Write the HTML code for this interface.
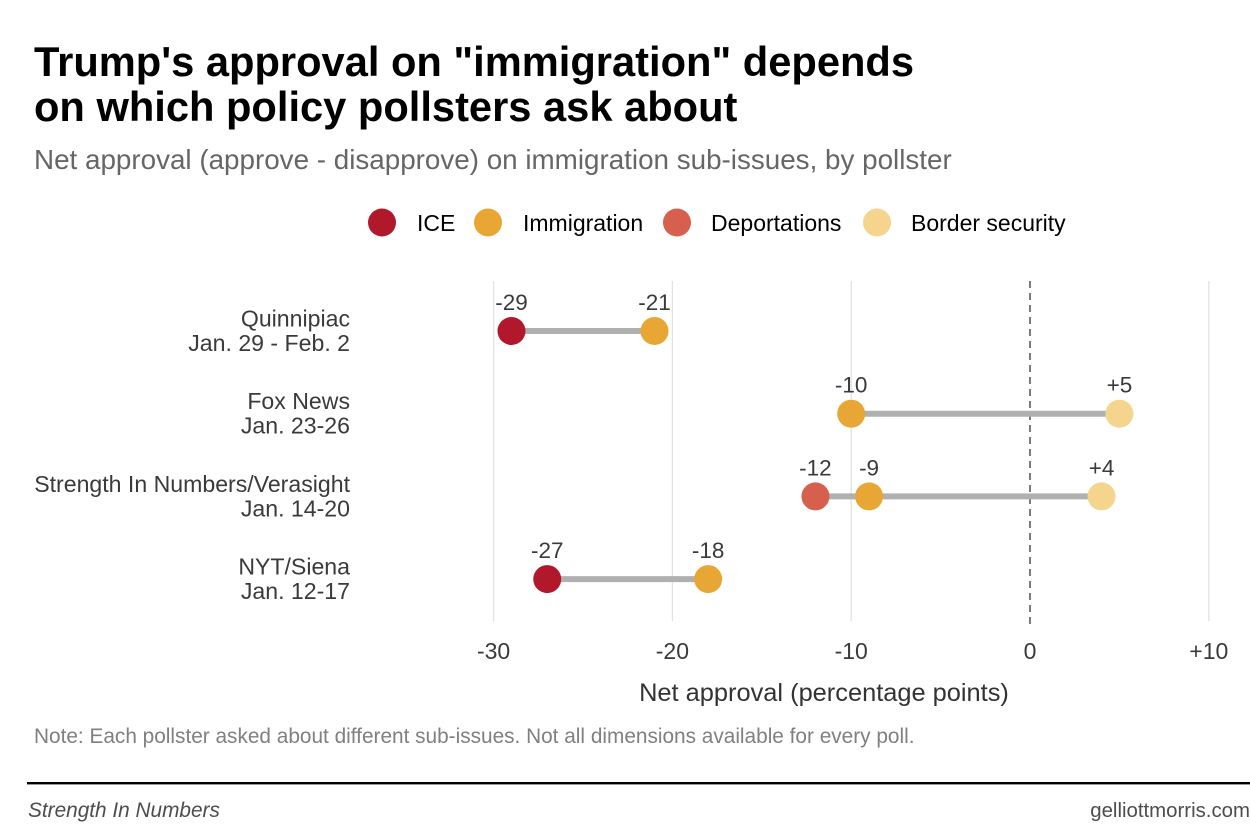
<!DOCTYPE html>
<html lang="en">
<head>
<meta charset="utf-8">
<title>Trump's approval on immigration</title>
<style>
html,body{margin:0;padding:0;background:#fff;width:1250px;height:833px;overflow:hidden}
svg{display:block;font-family:"Liberation Sans",Arial,sans-serif}
</style>
</head>
<body>
<svg id="chart" width="1250" height="833" viewBox="0 0 1250 833" xmlns="http://www.w3.org/2000/svg">
  <rect width="1250" height="833" fill="#fff"/>
  <text x="34" y="76" font-size="41.65" font-weight="700" fill="#000">Trump's approval on "immigration" depends</text>
  <text x="34" y="121" font-size="41.65" font-weight="700" fill="#000">on which policy pollsters ask about</text>
  <text x="34" y="169" font-size="27.8" fill="#666">Net approval (approve - disapprove) on immigration sub-issues, by pollster</text>
  <g id="legend"></g>
  <g id="grid"></g>
  <g id="rows"></g>
  <g id="xticks"></g>
  <text x="824" y="701" font-size="25.4" fill="#333" text-anchor="middle">Net approval (percentage points)</text>
  <text x="34" y="743" font-size="20.8" fill="#808080">Note: Each pollster asked about different sub-issues. Not all dimensions available for every poll.</text>
  <rect x="27" y="782" width="1223" height="2.4" fill="#000"/>
  <text x="28" y="817" font-size="20.8" font-style="italic" fill="#4d4d4d">Strength In Numbers</text>
  <text x="1250" y="817" font-size="20.4" fill="#4d4d4d" text-anchor="end">gelliottmorris.com</text>
</svg>
<script>
const categories = ["ICE", "Immigration", "Deportations", "Border security"];
const seriesColors = ["#b2182b", "#e8a735", "#d6604d", "#f5d58e"];
const pollsters = ["Quinnipiac", "Fox News", "Strength In Numbers/Verasight", "NYT/Siena"];
const pollDates = ["Jan. 29 - Feb. 2", "Jan. 23-26", "Jan. 14-20", "Jan. 12-17"];
const iceValues = [-29, null, null, -27];
const immigrationValues = [-21, -10, -9, -18];
const deportationValues = [null, null, -12, null];
const borderValues = [null, 5, 4, null];
const seriesValues = [iceValues, immigrationValues, deportationValues, borderValues];
const xTicks = [-30, -20, -10, 0, 10];

const NS = "http://www.w3.org/2000/svg";
function xScale(v) { return 1030 + v * 17.88; }
function yScale(i) { return 331 + i * 82.7; }
function fmt(v) { return v > 0 ? "+" + v : String(v); }
function make(tag, parent, attrs, txt) {
  const el = document.createElementNS(NS, tag);
  for (const k in attrs) el.setAttribute(k, attrs[k]);
  if (txt !== undefined) el.textContent = txt;
  parent.appendChild(el);
  return el;
}

const grid = document.getElementById("grid");
xTicks.forEach(function (t) {
  if (t !== 0) {
    const g = make("line", grid, {x1: xScale(t), x2: xScale(t), y1: 281, y2: 621, stroke: "#e2e2e2", "stroke-width": 1.3});
    
    
  }
});
const zero = make("line", grid, {x1: xScale(0), x2: xScale(0), y1: 281, y2: 629, stroke: "#666", "stroke-width": 1.7, "stroke-dasharray": "7 5"});



const xt = document.getElementById("xticks");
xTicks.forEach(function (t) {
  const l = make("text", xt, {x: xScale(t), y: 659, "font-size": 23, fill: "#3a3a3a", "text-anchor": "middle"}, fmt(t));
  
  
});

const rows = document.getElementById("rows");
pollsters.forEach(function (name, i) {
  const y = yScale(i);
  const a = make("text", rows, {x: 350, y: y - 4.5, "font-size": 23.1, fill: "#3a3a3a", "text-anchor": "end"}, name);
  
  
  const b = make("text", rows, {x: 350, y: y + 20, "font-size": 23.1, fill: "#3a3a3a", "text-anchor": "end"}, pollDates[i]);
  
  
  const vals = seriesValues.map(function (s) { return s[i]; }).filter(function (v) { return v !== null; });
  const bar = make("line", rows, {x1: xScale(Math.min.apply(null, vals)), x2: xScale(Math.max.apply(null, vals)), y1: y, y2: y, stroke: "#b0b0b0", "stroke-width": 6});
  
  
});
pollsters.forEach(function (name, i) {
  const y = yScale(i);
  seriesValues.forEach(function (s, k) {
    const v = s[i];
    if (v === null) return;
    const p = make("circle", rows, {cx: xScale(v), cy: y, r: 14, fill: seriesColors[k]});
    
    
    const t = make("text", rows, {x: xScale(v), y: y - 21, "font-size": 22.5, fill: "#3a3a3a", "text-anchor": "middle"}, fmt(v));
    
    
  });
});

const legend = document.getElementById("legend");
const legendDotX = [382, 488, 677, 877];
const legendTextX = [417, 523, 711, 911];
categories.forEach(function (c, k) {
  const d = make("circle", legend, {cx: legendDotX[k], cy: 222.5, r: 14, fill: seriesColors[k]});
  
  
  const t = make("text", legend, {x: legendTextX[k], y: 231, "font-size": 23, fill: "#000"}, c);
  
  
});
</script>
</body>
</html>
